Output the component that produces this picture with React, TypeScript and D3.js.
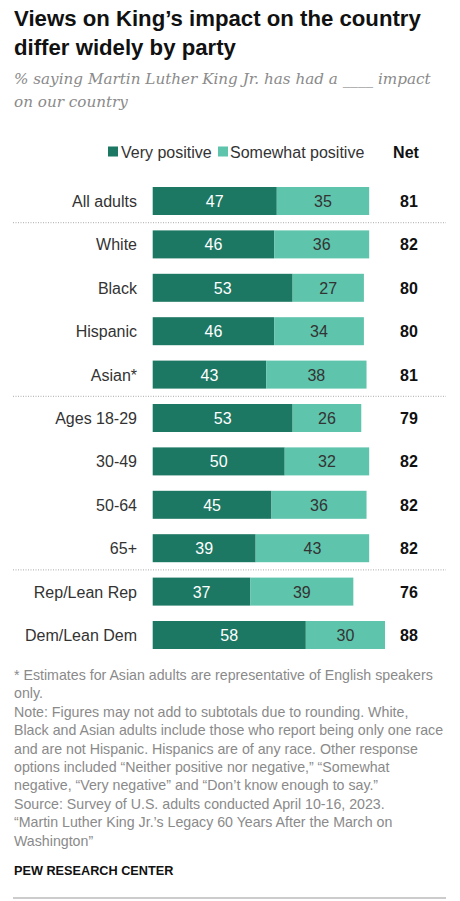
import React from "react";
import * as d3 from "d3";

const categories = [
  "All adults",
  "White",
  "Black",
  "Hispanic",
  "Asian*",
  "Ages 18-29",
  "30-49",
  "50-64",
  "65+",
  "Rep/Lean Rep",
  "Dem/Lean Dem",
];
const veryPositive = [47, 46, 53, 46, 43, 53, 50, 45, 39, 37, 58];
const somewhatPositive = [35, 36, 27, 34, 38, 26, 32, 36, 43, 39, 30];
const netValues = [81, 82, 80, 80, 81, 79, 82, 82, 82, 76, 88];
const separatorsAfter = ["All adults", "Asian*", "65+"];

const titleLines = ["Views on King\u2019s impact on the country", "differ widely by party"];
const subtitleLines = [
  "% saying Martin Luther King Jr. has had a ____ impact",
  "on our country",
];
const legendLabels = ["Very positive", "Somewhat positive"];
const noteLines = [
  "* Estimates for Asian adults are representative of English speakers",
  "only.",
  "Note: Figures may not add to subtotals due to rounding. White,",
  "Black and Asian adults include those who report being only one race",
  "and are not Hispanic. Hispanics are of any race. Other response",
  "options included \u201cNeither positive nor negative,\u201d \u201cSomewhat",
  "negative, \u201cVery negative\u201d and \u201cDon\u2019t know enough to say.\u201d",
  "Source: Survey of U.S. adults conducted April 10-16, 2023.",
  "\u201cMartin Luther King Jr.\u2019s Legacy 60 Years After the March on",
  "Washington\u201d",
];

const DARK = "#1c7763";
const LIGHT = "#5ec4ac";
const SANS = "'Liberation Sans', Arial, sans-serif";
const SERIF = "'DejaVu Serif', Georgia, serif";

export default function App() {
  const W = 460;
  const H = 901;
  const x = d3.scaleLinear().domain([0, 100]).range([152.7, 152.7 + 264]);
  const y = d3.scalePoint<string>().domain(categories).range([201, 635]);
  const barH = 28;
  const step = y.step();

  return (
    <>
      <style>{`body{margin:0;background:#fff}`}</style>
      <svg width={W} height={H} style={{ display: "block" }}>
        <rect width={W} height={H} fill="#fff" />
        {titleLines.map((t, i) => (
          <text
            key={t}
            x={14}
            y={26 + i * 29}
            fontFamily={SANS}
            fontWeight={700}
            fontSize={22.2}
            fill="#111"
          >
            {t}
          </text>
        ))}
        {subtitleLines.map((t, i) => (
          <text
            key={t}
            x={14}
            y={84 + i * 23}
            fontFamily={SERIF}
            fontStyle="italic"
            fontSize={15.2}
            fill="#8a8a8a"
          >
            {t}
          </text>
        ))}
        {/* legend */}
        <rect x={108} y={146.5} width={10} height={10} fill={DARK} />
        <text x={121} y={157.5} fontFamily={SANS} fontSize={16} fill="#333">
          {legendLabels[0]}
        </text>
        <rect x={218} y={146.5} width={10} height={10} fill={LIGHT} />
        <text x={230} y={157.5} fontFamily={SANS} fontSize={16} fill="#333">
          {legendLabels[1]}
        </text>
        <text x={406} y={157.5} textAnchor="middle" fontFamily={SANS} fontWeight={700} fontSize={16} fill="#111">
          Net
        </text>
        {/* separators */}
        {separatorsAfter.map((c) => {
          const yy = (y(c) as number) + step / 2;
          return (
            <line
              key={c}
              x1={13}
              x2={446}
              y1={yy}
              y2={yy}
              stroke="#aaa"
              strokeWidth={1}
              strokeDasharray="1,1.5"
            />
          );
        })}
        {categories.map((c, i) => {
          const cy = y(c) as number;
          const x0 = x(0);
          const x1 = x(veryPositive[i]);
          const x2 = x(veryPositive[i] + somewhatPositive[i]);
          return (
            <g key={c}>
              <text
                x={137}
                y={cy + 6}
                textAnchor="end"
                fontFamily={SANS}
                fontSize={16}
                fill="#333"
              >
                {c}
              </text>
              <rect x={x0} y={cy - barH / 2} width={x1 - x0} height={barH} fill={DARK} />
              <rect x={x1} y={cy - barH / 2} width={x2 - x1} height={barH} fill={LIGHT} />
              <text
                x={(x0 + x1) / 2}
                y={cy + 6}
                textAnchor="middle"
                fontFamily={SANS}
                fontSize={16}
                fill="#fff"
              >
                {veryPositive[i]}
              </text>
              <text
                x={(x1 + x2) / 2}
                y={cy + 6}
                textAnchor="middle"
                fontFamily={SANS}
                fontSize={16}
                fill="#333"
              >
                {somewhatPositive[i]}
              </text>
              <text
                x={409}
                y={cy + 6}
                textAnchor="middle"
                fontFamily={SANS}
                fontWeight={700}
                fontSize={16}
                fill="#111"
              >
                {netValues[i]}
              </text>
            </g>
          );
        })}
        {noteLines.map((t, i) => (
          <text
            key={i}
            x={14}
            y={680 + i * 18.4}
            fontFamily={SANS}
            fontSize={14.2}
            fill="#8a8a8a"
          >
            {t}
          </text>
        ))}
        <text x={14} y={875} fontFamily={SANS} fontWeight={700} fontSize={12.7} fill="#111">
          PEW RESEARCH CENTER
        </text>
        <line x1={13} x2={446} y1={898} y2={898} stroke="#999" strokeWidth={1} />
      </svg>
    </>
  );
}
